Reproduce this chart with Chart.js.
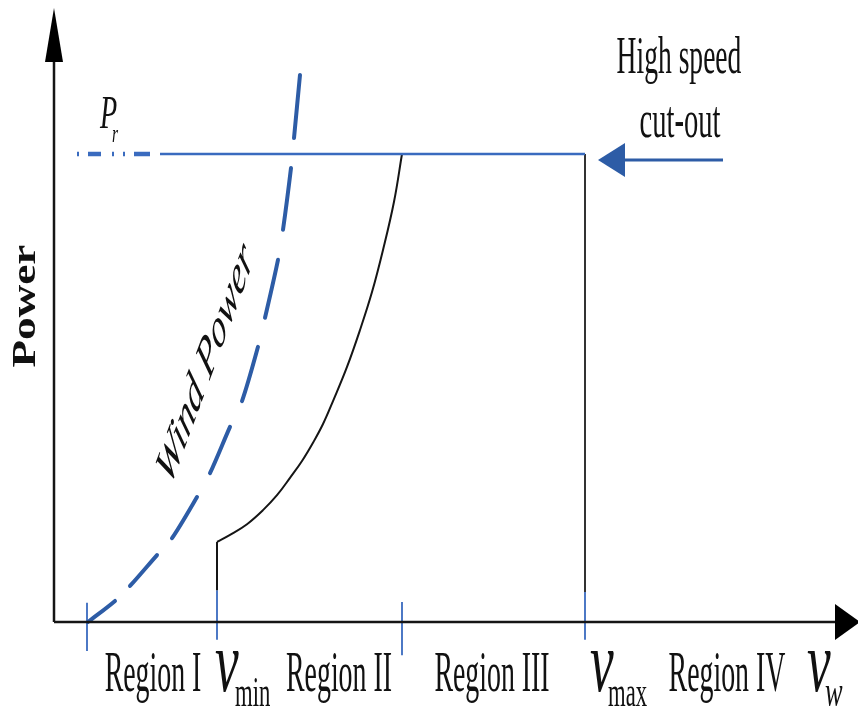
<!DOCTYPE html>
<html><head><meta charset="utf-8">
<script src="https://cdn.jsdelivr.net/npm/chart.js@4.4.1/dist/chart.umd.min.js"></script>
<style>html,body{margin:0;padding:0;background:#fff;}#wrap{width:858px;height:709px;position:relative;}</style>
</head><body><div id="wrap"><canvas id="c"></canvas></div>
<script>
// Schematic wind turbine power curve. x: wind speed (arbitrary units), y: power in units of rated power P_r
const cutInSpeed = 3.3, minSpeed = 16.3, ratedSpeed = 34.8, maxSpeed = 53.1;
const ratedPower = 1;
// available wind power (dashed curve), points at dash ends
const windPowerX = [3.4, 6.1, 7.6, 10.3, 11.8, 14.3, 15.6, 17.6, 18.8, 20.4, 21.1, 22.4, 22.9, 23.7, 24.0, 24.6];
const windPowerY = [0, 0.045, 0.077, 0.143, 0.179, 0.267, 0.318, 0.417, 0.472, 0.588, 0.650, 0.774, 0.838, 0.970, 1.034, 1.169];
// turbine output curve (region II)
const turbineX = [16.3, 17.6, 19.3, 20.9, 22.3, 23.6, 24.8, 25.9, 26.9, 27.9, 29.3, 30.6, 31.8, 32.9, 34.0, 34.8];
const turbineY = [0.171, 0.186, 0.209, 0.239, 0.271, 0.308, 0.344, 0.383, 0.423, 0.472, 0.545, 0.624, 0.705, 0.795, 0.898, 1.0];
// rated power line
const ratedLineX = [10.6, maxSpeed];
const ratedStubX = [2.3, 9.6];
// tick marks below axis: [speed, top, bottom]
const tickSpeeds = [cutInSpeed, minSpeed, ratedSpeed, maxSpeed];
const tickTops = [0.041, 0.068, 0.043, 0.064];
const tickBottoms = [-0.062, -0.038, -0.071, -0.038];
// cut-out arrow
const cutoutArrowX = [66.9, 57.0];
const cutoutArrowY = 0.987;
const cutoutArrowTipX = 54.4;
// axes
const xAxisEnd = 78.1, xAxisTip = 80.6;
const yAxisEnd = 1.2, yAxisTip = 1.312;

const BLUE = '#3a6bbf', DBLUE = '#2d5ca6', INK = '#151515';
const pts = (xs, ys) => xs.map((v, i) => ({x: v, y: ys[i]}));
const line = (data, color, width, extra) => Object.assign({data, borderColor: color, borderWidth: width, showLine: true, pointRadius: 0, fill: false, tension: 0}, extra || {});

const datasets = [
  line(pts([0, xAxisEnd], [0, 0]), INK, 2.5),
  line(pts([0, 0], [0, yAxisEnd]), INK, 2.5),
  line(pts(ratedLineX, [ratedPower, ratedPower]), BLUE, 2.5),
  line(pts(ratedStubX, [ratedPower, ratedPower]), BLUE, 4.5, {borderDash: [2, 9, 13, 11, 2, 9, 2, 9, 16, 30]}),
  line(pts([maxSpeed, maxSpeed], [ratedPower, tickTops[3]]), '#333', 2),
  line(pts([minSpeed, minSpeed], [tickTops[1], turbineY[0]]), INK, 2),
  line(pts(turbineX, turbineY), INK, 2, {tension: 0.4}),
  line(pts(windPowerX, windPowerY), DBLUE, 4, {tension: 0.3, borderCapStyle: 'round',
    segment: {borderColor: c => (c.p0DataIndex % 2 === 0 ? DBLUE : 'rgba(0,0,0,0)')}}),
  line(pts(cutoutArrowX, [cutoutArrowY, cutoutArrowY]), DBLUE, 3),
];
tickSpeeds.forEach((s, i) => datasets.push(line(pts([s, s], [tickTops[i], tickBottoms[i]]), BLUE, 1.8)));

const arrowHeads = [
  {tipX: 0, tipY: yAxisTip, dir: 'up', len: 54, half: 9, color: '#000'},
  {tipX: xAxisTip, tipY: 0, dir: 'right', len: 25, half: 18, color: '#000'},
  {tipX: cutoutArrowTipX, tipY: cutoutArrowY, dir: 'left', len: 27, half: 17, color: DBLUE},
];
const SERIF = '"Liberation Serif", "Times New Roman", serif';
const texts = [
  {t: 'High speed', x: 62.5, y: 1.173, f: '52px ' + SERIF, sx: 0.53, sy: 1, align: 'center'},
  {t: 'cut-out', x: 62.6, y: 1.036, f: '52px ' + SERIF, sx: 0.55, sy: 1, align: 'center'},
  {t: 'Region I', x: 9.9, y: -0.147, f: '58px ' + SERIF, sx: 0.48, sy: 1, align: 'center'},
  {t: 'Region II', x: 28.5, y: -0.147, f: '58px ' + SERIF, sx: 0.48, sy: 1, align: 'center'},
  {t: 'Region III', x: 43.8, y: -0.147, f: '58px ' + SERIF, sx: 0.48, sy: 1, align: 'center'},
  {t: 'Region IV', x: 67.3, y: -0.147, f: '58px ' + SERIF, sx: 0.48, sy: 1, align: 'center'},
  {t: 'v', x: 16.1, y: -0.147, f: 'italic 86px ' + SERIF, sx: 0.62, sy: 1, align: 'left'},
  {t: 'min', x: 18.1, y: -0.179, f: '42px ' + SERIF, sx: 0.54, sy: 1, align: 'left'},
  {t: 'v', x: 53.6, y: -0.147, f: 'italic 86px ' + SERIF, sx: 0.62, sy: 1, align: 'left'},
  {t: 'max', x: 55.4, y: -0.179, f: '42px ' + SERIF, sx: 0.54, sy: 1, align: 'left'},
  {t: 'v', x: 75.3, y: -0.147, f: 'italic 86px ' + SERIF, sx: 0.62, sy: 1, align: 'left'},
  {t: 'w', x: 77.1, y: -0.179, f: 'italic 44px ' + SERIF, sx: 0.6, sy: 1, align: 'left'},
  {t: 'P', x: 4.6, y: 1.056, f: 'italic 47px ' + SERIF, sx: 0.6, sy: 1, align: 'left'},
  {t: 'r', x: 5.8, y: 1.026, f: 'italic 26px ' + SERIF, sx: 0.6, sy: 1, align: 'left'},
  {t: 'Power', x: -2.8, y: 0.675, f: 'bold 33px ' + SERIF, sx: 1, sy: 1.37, rot: -Math.PI / 2, align: 'center', base: 'middle'},
  {t: 'Wind Power', x: 15.2, y: 0.55, f: 'italic 58px ' + SERIF, sx: 0.5, sy: 1, rot: -53.5 * Math.PI / 180, align: 'center', base: 'middle'},
];

const annot = {
  id: 'annot',
  afterDatasetsDraw(chart) {
    const {ctx, scales: {x, y}} = chart;
    ctx.save();
    arrowHeads.forEach(a => {
      const tx = x.getPixelForValue(a.tipX), ty = y.getPixelForValue(a.tipY);
      ctx.beginPath();
      ctx.moveTo(tx, ty);
      if (a.dir === 'up') { ctx.lineTo(tx - a.half, ty + a.len); ctx.lineTo(tx + a.half, ty + a.len); }
      if (a.dir === 'right') { ctx.lineTo(tx - a.len, ty - a.half); ctx.lineTo(tx - a.len, ty + a.half); }
      if (a.dir === 'left') { ctx.lineTo(tx + a.len, ty - a.half); ctx.lineTo(tx + a.len, ty + a.half); }
      ctx.closePath();
      ctx.fillStyle = a.color;
      ctx.fill();
    });
    texts.forEach(o => {
      ctx.save();
      ctx.translate(x.getPixelForValue(o.x), y.getPixelForValue(o.y));
      ctx.scale(o.sx, o.sy);
      if (o.rot) ctx.rotate(o.rot);
      ctx.font = o.f;
      ctx.fillStyle = '#111';
      ctx.textAlign = o.align;
      ctx.textBaseline = o.base || 'alphabetic';
      ctx.fillText(o.t, 0, 0);
      ctx.restore();
    });
    ctx.restore();
  }
};

new Chart(document.getElementById('c'), {
  type: 'scatter',
  data: {datasets},
  options: {
    responsive: true, maintainAspectRatio: false, animation: false, events: [],
    layout: {padding: 0},
    plugins: {legend: {display: false}, tooltip: {enabled: false}},
    scales: {
      x: {type: 'linear', display: false, min: -5.4, max: 80.4},
      y: {type: 'linear', display: false, min: -0.1859, max: 1.3291}
    }
  },
  plugins: [annot]
});
</script></body></html>
